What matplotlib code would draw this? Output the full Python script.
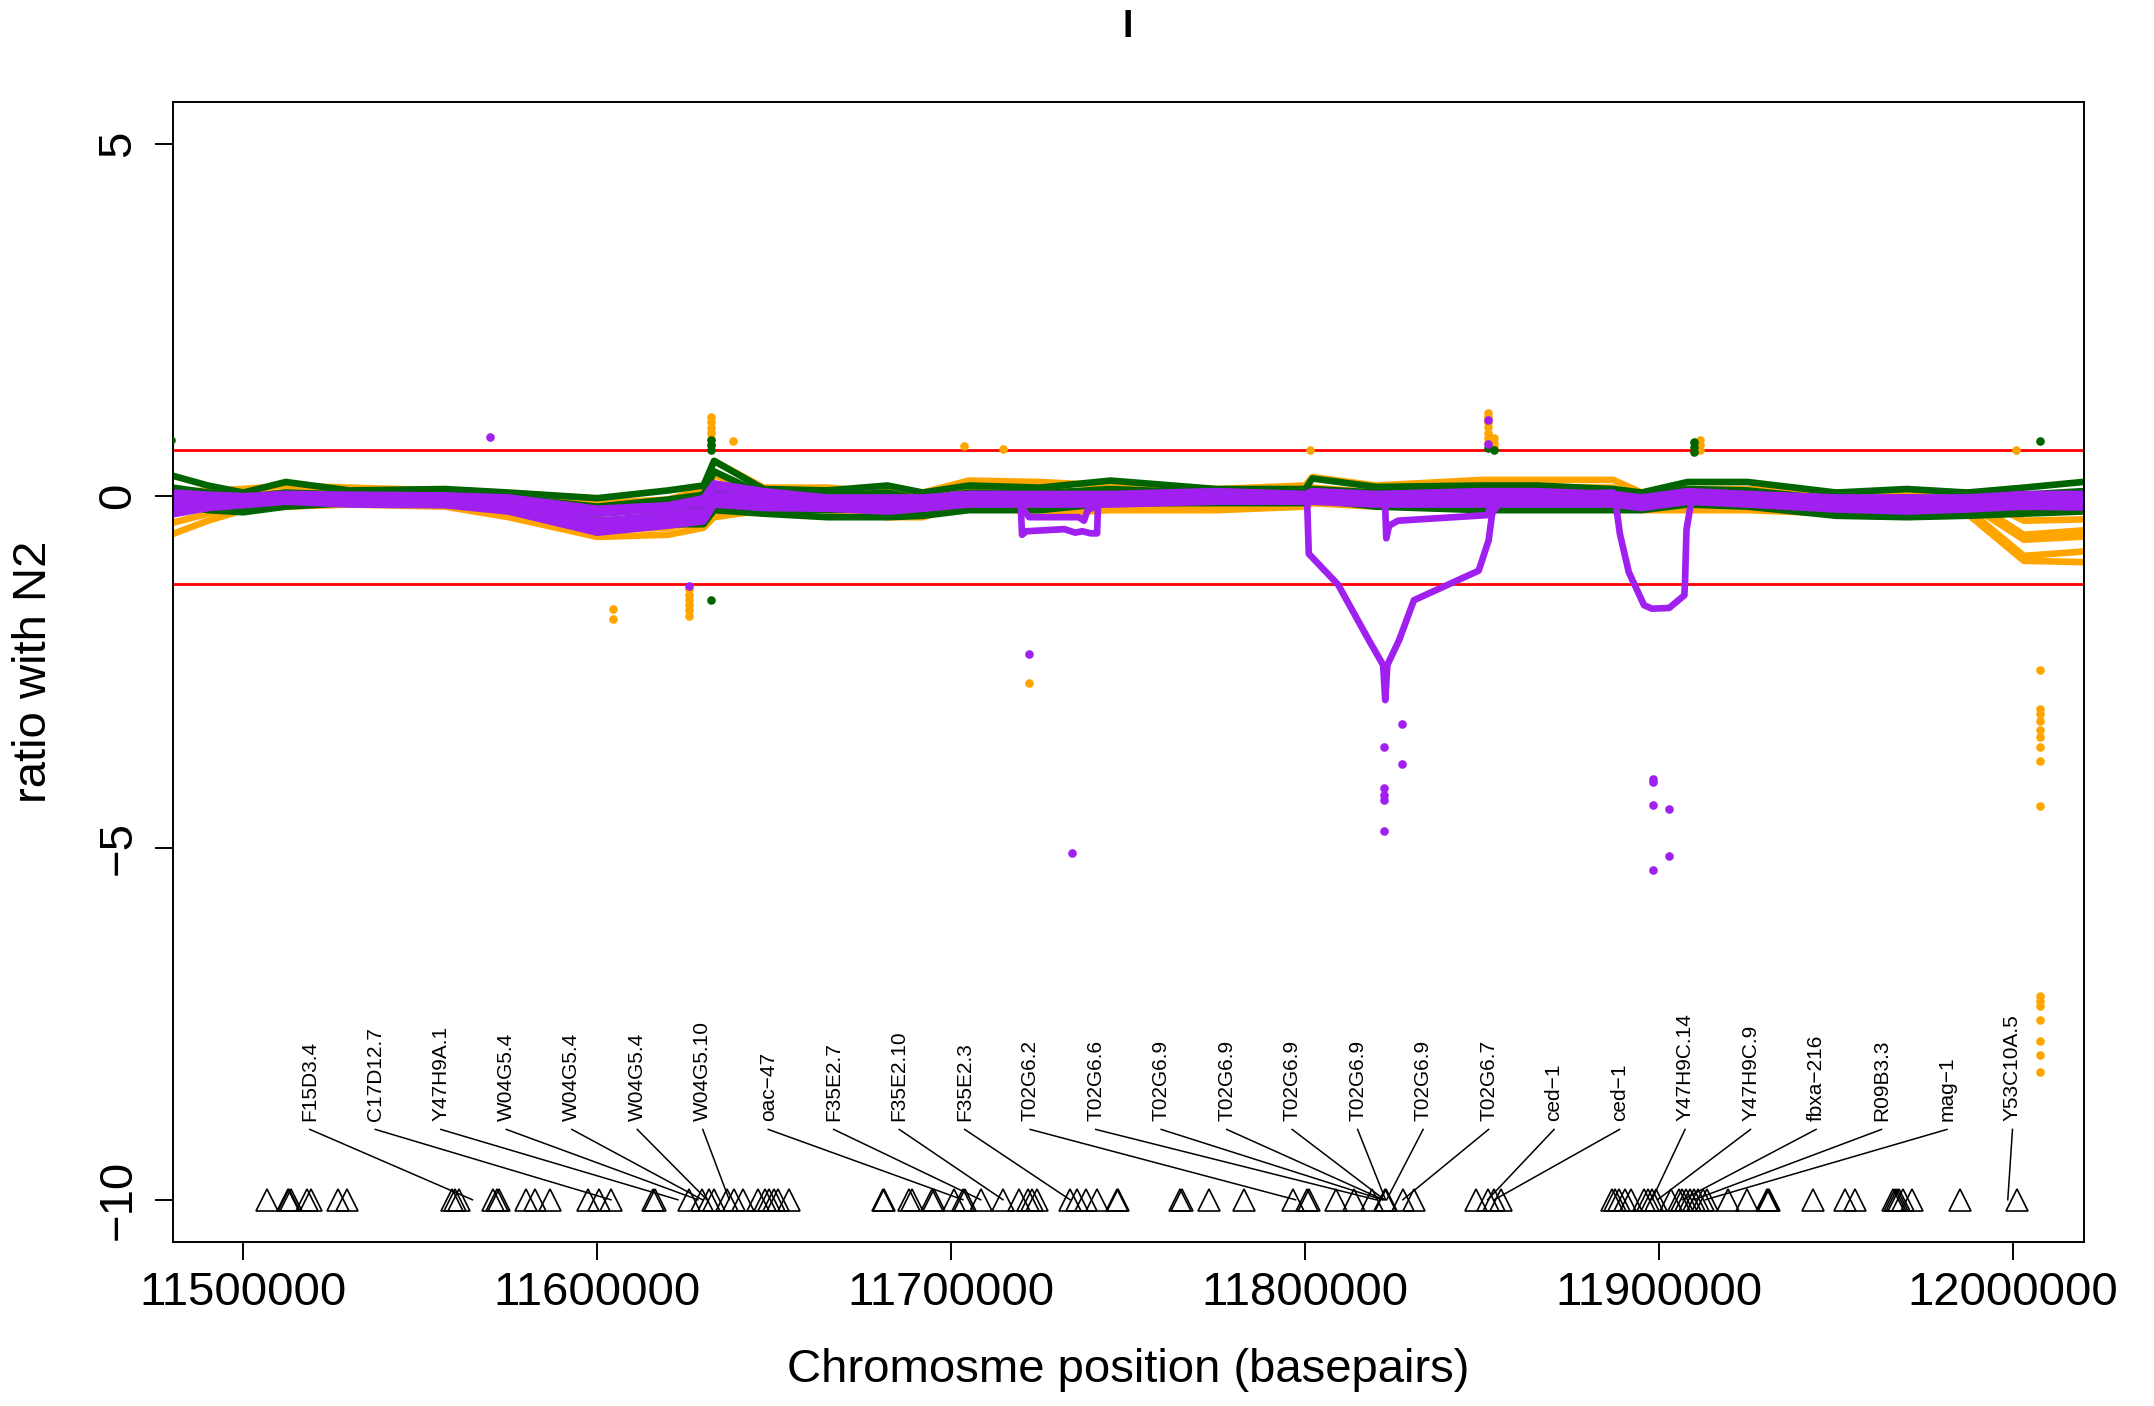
import numpy as np
import matplotlib
matplotlib.use("Agg")
import matplotlib.pyplot as plt

plt.rcParams["font.family"] = ["Liberation Sans", "DejaVu Sans"]

ORANGE = "#FFA500"
GREEN = "#006400"
PURPLE = "#A020F0"

# probe positions shared by the smoothed ratio lines
bg_pos = [11470000, 11480000, 11490000, 11500000, 11512000, 11530000, 11557000, 11575000,
          11600000, 11620000, 11630000, 11633000, 11647000, 11665000, 11682000, 11692000,
          11705000, 11725000, 11745000, 11775000, 11800000, 11802000, 11820000, 11850000,
          11865000, 11887000, 11895000, 11908000, 11925000, 11950000, 11970000, 11987000,
          12003000, 12030000]

orange_1 = [0.10, 0.05, 0.08, 0.10, 0.15, 0.12, 0.08, 0.03, -0.10, -0.05, 0.10, 0.50, 0.12, 0.12, 0.05, 0.05, 0.22,
            0.20, 0.15, 0.10, 0.15, 0.27, 0.15, 0.23, 0.23, 0.23, 0.05, 0.10, 0.10, 0.05, 0.05, 0.05, -0.35, -0.32]
orange_2 = [-0.05, -0.08, -0.05, 0.02, 0.05, 0.05, 0.02, -0.05, -0.20, -0.15, -0.05, 0.30, 0.02, 0.02, -0.05, -0.05, 0.12,
            0.08, 0.05, 0.02, 0.05, 0.12, 0.05, 0.12, 0.12, 0.12, -0.02, 0.02, 0.02, -0.05, -0.05, -0.03, -0.55, -0.45]
orange_3 = [-0.25, -0.22, -0.15, -0.05, -0.02, -0.02, -0.05, -0.12, -0.35, -0.30, -0.20, 0.05, -0.05, -0.08, -0.12, -0.15, 0.05,
            -0.02, -0.02, -0.05, -0.02, 0.02, -0.03, 0.02, 0.03, 0.03, -0.08, -0.05, -0.05, -0.12, -0.12, -0.10, -0.62, -0.55]
orange_4 = [-0.40, -0.38, -0.25, -0.12, -0.08, -0.08, -0.10, -0.22, -0.48, -0.45, -0.35, -0.15, -0.12, -0.15, -0.22, -0.22, -0.02,
            -0.12, -0.10, -0.12, -0.08, -0.05, -0.10, -0.08, -0.05, -0.05, -0.15, -0.12, -0.12, -0.18, -0.18, -0.18, -0.85, -0.75]
orange_5 = [-0.60, -0.54, -0.35, -0.20, -0.15, -0.12, -0.15, -0.30, -0.58, -0.55, -0.45, -0.30, -0.20, -0.20, -0.30, -0.30, -0.10,
            -0.25, -0.20, -0.20, -0.15, -0.10, -0.15, -0.15, -0.10, -0.10, -0.20, -0.20, -0.20, -0.25, -0.25, -0.25, -0.92, -0.95]

green_1 = [0.30, 0.29, 0.15, 0.05, 0.20, 0.08, 0.10, 0.05, -0.03, 0.08, 0.15, 0.50, 0.10, 0.08, 0.15, 0.05, 0.15,
           0.12, 0.22, 0.10, 0.10, 0.25, 0.13, 0.15, 0.15, 0.10, 0.05, 0.20, 0.20, 0.05, 0.10, 0.05, 0.12, 0.25]
green_2 = [0.15, 0.12, 0.05, -0.02, 0.05, 0.02, 0.04, -0.02, -0.15, -0.05, 0.02, 0.35, 0.02, 0.00, 0.05, -0.05, 0.05,
           0.04, 0.10, 0.04, 0.04, 0.10, 0.05, 0.06, 0.06, 0.03, -0.02, 0.10, 0.08, -0.05, -0.02, -0.05, 0.02, 0.10]
green_3 = [0.00, 0.02, -0.05, -0.10, -0.02, -0.03, -0.02, -0.08, -0.25, -0.18, -0.12, 0.10, -0.08, -0.10, -0.08, -0.12, -0.05,
           -0.04, 0.02, -0.02, -0.02, 0.03, -0.02, -0.02, -0.02, -0.05, -0.08, 0.02, -0.02, -0.12, -0.12, -0.12, -0.08, -0.02]
green_4 = [-0.08, -0.05, -0.12, -0.18, -0.08, -0.07, -0.08, -0.15, -0.35, -0.30, -0.25, -0.05, -0.18, -0.20, -0.18, -0.20, -0.12,
           -0.12, -0.05, -0.06, -0.06, -0.02, -0.08, -0.10, -0.10, -0.12, -0.14, -0.05, -0.08, -0.20, -0.22, -0.20, -0.16, -0.12]
green_5 = [-0.15, -0.10, -0.20, -0.23, -0.15, -0.10, -0.12, -0.20, -0.45, -0.40, -0.40, -0.20, -0.25, -0.30, -0.30, -0.28, -0.20,
           -0.20, -0.10, -0.10, -0.10, -0.05, -0.15, -0.20, -0.20, -0.20, -0.20, -0.12, -0.15, -0.28, -0.30, -0.28, -0.25, -0.20]

purple_1 = [0.06, 0.05, 0.02, 0.00, 0.03, 0.02, 0.01, -0.02, -0.18, -0.13, -0.03, 0.18, 0.07, -0.02, -0.02, -0.02, 0.03,
            0.03, 0.03, 0.07, 0.03, 0.07, 0.03, 0.07, 0.07, 0.03, -0.02, 0.07, 0.03, -0.02, -0.02, -0.02, 0.03, 0.03]
purple_2 = [-0.02, -0.02, -0.02, -0.03, 0.01, 0.00, -0.02, -0.06, -0.25, -0.18, -0.10, 0.12, 0.03, -0.05, -0.06, -0.05, 0.00,
            0.00, 0.00, 0.05, 0.01, 0.05, 0.00, 0.04, 0.04, 0.00, -0.05, 0.05, 0.00, -0.06, -0.06, -0.06, 0.00, -0.01]
purple_3 = [-0.12, -0.12, -0.08, -0.07, -0.03, -0.05, -0.07, -0.12, -0.35, -0.27, -0.20, 0.02, -0.05, -0.10, -0.12, -0.10, -0.05,
            -0.05, -0.05, 0.00, -0.02, 0.00, -0.05, -0.02, -0.02, -0.05, -0.10, 0.00, -0.05, -0.11, -0.12, -0.11, -0.05, -0.07]
purple_4 = [-0.20, -0.20, -0.13, -0.10, -0.06, -0.09, -0.10, -0.18, -0.44, -0.35, -0.28, -0.06, -0.11, -0.14, -0.18, -0.14, -0.09,
            -0.09, -0.09, -0.05, -0.06, -0.05, -0.09, -0.07, -0.07, -0.09, -0.14, -0.05, -0.09, -0.15, -0.17, -0.15, -0.10, -0.12]
purple_5 = [-0.26, -0.26, -0.17, -0.13, -0.08, -0.12, -0.13, -0.22, -0.52, -0.42, -0.36, -0.12, -0.17, -0.18, -0.22, -0.18, -0.12,
            -0.12, -0.12, -0.08, -0.08, -0.08, -0.12, -0.12, -0.12, -0.12, -0.17, -0.08, -0.12, -0.19, -0.22, -0.19, -0.15, -0.17]

# purple samples with deletions
step1_x = [11700000, 11719500, 11720000, 11721200, 11732000, 11735000, 11737000, 11739500, 11741200, 11741500, 11760000]
step1_y = [0.0, 0.0, -0.55, -0.50, -0.47, -0.52, -0.50, -0.53, -0.53, -0.05, 0.0]
step2_x = [11700000, 11718000, 11720500, 11722000, 11736000, 11737500, 11738500, 11745000, 11760000]
step2_y = [0.02, 0.0, -0.20, -0.30, -0.30, -0.35, -0.20, -0.05, 0.0]
dipA_x = [11780000, 11800500, 11801000, 11809300, 11818000, 11822000, 11822600, 11823200, 11826500,
          11830700, 11849000, 11851800, 11852800, 11856000, 11870000]
dipA_y = [0.0, -0.02, -0.82, -1.26, -2.05, -2.40, -2.90, -2.40, -2.05, -1.48, -1.06, -0.63, -0.25, 0.0, 0.02]
dipB_x = [11790000, 11822500, 11822900, 11823700, 11826200, 11851600, 11853000, 11870000]
dipB_y = [0.0, -0.05, -0.60, -0.42, -0.35, -0.27, 0.05, 0.0]
dipC_x = [11870000, 11887000, 11887600, 11888900, 11891400, 11895700, 11897900, 11902800, 11907100,
          11907300, 11907700, 11908800, 11910000, 11925000]
dipC_y = [0.02, 0.05, -0.06, -0.54, -1.08, -1.55, -1.60, -1.59, -1.41, -1.20, -0.48, -0.15, 0.05, 0.0]

# single-probe outliers
orange_pt_x = [11604400, 11604400, 11625800, 11625800, 11625800, 11625800, 11625800, 11625800,
               11632000, 11632000, 11632000, 11632000, 11632000, 11632000, 11638300, 11703700, 11714600,
               11722000, 11801300, 11851500, 11851500, 11851500, 11851500, 11851500, 11851500, 11851500,
               11853200, 11853200, 11853200, 11911600, 11911600, 11911600, 12000800,
               12007600, 12007600, 12007600, 12007600, 12007600, 12007600, 12007600, 12007600, 12007600,
               12007600, 12007600, 12007600, 12007600, 12007600, 12007600, 12007600]
orange_pt_y = [-1.61, -1.75, -1.32, -1.40, -1.48, -1.55, -1.62, -1.70,
               1.13, 1.05, 0.97, 0.89, 0.81, 0.73, 0.78, 0.71, 0.67,
               -2.65, 0.66, 1.18, 1.12, 1.05, 0.98, 0.90, 0.82, 0.75,
               0.82, 0.75, 0.70, 0.79, 0.72, 0.65, 0.66,
               -2.47, -3.03, -3.10, -3.19, -3.32, -3.42, -3.56, -3.76, -4.40,
               -7.11, -7.18, -7.25, -7.44, -7.74, -7.94, -8.18]
green_pt_x = [11479500, 11632000, 11632000, 11632000, 11632000, 11851500, 11853200,
              11909800, 11909800, 11909800, 12007600]
green_pt_y = [0.79, 0.79, 0.72, 0.65, -1.48, 0.68, 0.66, 0.77, 0.70, 0.63, 0.78]
purple_pt_x = [11569800, 11625800, 11722000, 11734200, 11851500, 11851500,
               11822200, 11822200, 11822200, 11822200, 11822200, 11827300, 11827300,
               11898300, 11898300, 11898300, 11898300, 11902800, 11902800]
purple_pt_y = [0.84, -1.28, -2.24, -5.07, 1.08, 0.74,
               -3.57, -4.15, -4.25, -4.32, -4.76, -3.24, -3.81,
               -4.02, -4.07, -4.39, -5.31, -4.45, -5.11]

thresholds = [0.66, -1.25]

gene_pos = [11506640, 11512580, 11512900, 11513420, 11517950, 11519220, 11526700, 11529250,
            11558920, 11559770, 11560900, 11570680, 11571580, 11572200, 11579830, 11582370, 11586610,
            11597350, 11600580, 11603740, 11615730, 11616300, 11625900,
            11629700, 11631600, 11632850, 11636640, 11638530, 11641050, 11645480, 11647380, 11648620,
            11649890, 11651160, 11654300,
            11680580, 11680900, 11688150, 11688780, 11694460, 11695080, 11700760, 11703280, 11703920,
            11708330, 11714630, 11719040, 11721590, 11722830, 11724100, 11733570, 11735460, 11737980,
            11741140, 11746830, 11747100, 11764490, 11765110, 11772690, 11782780, 11796650, 11800440,
            11801060, 11808630, 11813690, 11818720, 11822500, 11822800, 11827560, 11830700, 11848360,
            11851520, 11853410, 11855310,
            11886540, 11887620, 11888690, 11890330, 11891940, 11895730, 11896800, 11897900, 11898980,
            11903300, 11905480, 11906560, 11907630, 11908710, 11909810, 11910880, 11912490, 11913570,
            11919530, 11924930, 11930350, 11930600, 11930890, 11943330, 11952510, 11955220, 11966050,
            11966590, 11967120, 11967680, 11968730, 11971440, 11984950, 12001170]

gene_labels = ["F15D3.4", "C17D12.7", "Y47H9A.1", "W04G5.4", "W04G5.4", "W04G5.4", "W04G5.10",
               "oac\u221247", "F35E2.7", "F35E2.10", "F35E2.3", "T02G6.2", "T02G6.6", "T02G6.9",
               "T02G6.9", "T02G6.9", "T02G6.9", "T02G6.9", "T02G6.7", "ced\u22121", "ced\u22121",
               "Y47H9C.14", "Y47H9C.9", "fbxa\u2212216", "R09B3.3", "mag\u22121", "Y53C10A.5"]
label_target = [11564740, 11603860, 11622790, 11628440, 11629710, 11630990, 11637280, 11703300,
                11708330, 11714630, 11733570, 11797270, 11820000, 11821800, 11822100, 11822400,
                11822700, 11823000, 11827560, 11851520, 11853400, 11897900, 11899500, 11906560,
                11909810, 11913030, 11998470]

W, H = 2154, 1406
fig = plt.figure(figsize=(W / 100, H / 100), dpi=100)
ax = fig.add_axes([172.5 / W, 1 - 1242 / H, (2084 - 172.5) / W, (1242 - 102) / H])

for t in thresholds:
    ax.axhline(t, color="#FF0000", lw=2.0, zorder=1)

lkw = dict(lw=4.8, solid_capstyle="round", solid_joinstyle="round", zorder=2)
for ys in [orange_1, orange_2, orange_3, orange_4, orange_5]:
    ax.plot(bg_pos, ys, color=ORANGE, **lkw)
for ys in [green_1, green_2, green_3, green_4, green_5]:
    ax.plot(bg_pos, ys, color=GREEN, **lkw)
for ys in [purple_1, purple_2, purple_3, purple_4, purple_5]:
    ax.plot(bg_pos, ys, color=PURPLE, **lkw)
for xs, ys in [(step1_x, step1_y), (step2_x, step2_y), (dipA_x, dipA_y), (dipB_x, dipB_y), (dipC_x, dipC_y)]:
    ax.plot(xs, ys, color=PURPLE, **lkw)

pkw = dict(marker="o", ls="none", ms=6.2, mew=0, zorder=3)
ax.plot(orange_pt_x, orange_pt_y, color=ORANGE, **pkw)
ax.plot(green_pt_x, green_pt_y, color=GREEN, **pkw)
ax.plot(purple_pt_x, purple_pt_y, color=PURPLE, **pkw)

# genes
ax.plot(gene_pos, [-10] * len(gene_pos), ls="none", marker="^", ms=16, mfc="none",
        mec="black", mew=1.2, zorder=4)
label_x = np.linspace(11518800, 11999800, len(gene_labels))
for lx, tx, lab in zip(label_x, label_target, gene_labels):
    ax.plot([lx, tx], [-9.0, -10.0], color="black", lw=1.1, zorder=4)
    ax.text(lx, -8.88, lab, rotation=90, ha="center", va="bottom", fontsize=15, zorder=5)

ax.set_xlim(11480000, 12020000)
ax.set_ylim(-10.6, 5.6)
ax.set_xticks([11500000, 11600000, 11700000, 11800000, 11900000, 12000000])
ax.set_xticklabels(["11500000", "11600000", "11700000", "11800000", "11900000", "12000000"])
ax.set_yticks([-10, -5, 0, 5])
ax.set_yticklabels(["\u221210", "\u22125", "0", "5"], rotation=90, va="center")
ax.tick_params(axis="both", length=13, width=1.4, labelsize=34, direction="out")
ax.tick_params(axis="x", pad=8)
ax.tick_params(axis="y", pad=10)
for s in ax.spines.values():
    s.set_linewidth(1.4)

fig.text(1128 / W, 1 - 37 / H, "I", ha="center", va="baseline", fontsize=27, fontweight="bold")
fig.text(1128 / W, 1 - 1370 / H, "Chromosme position (basepairs)", ha="center", va="center", fontsize=34)
fig.text(34 / W, 1 - 672 / H, "ratio with N2", ha="center", va="center", rotation=90, fontsize=34)

fig.savefig("out.png", dpi=100)
